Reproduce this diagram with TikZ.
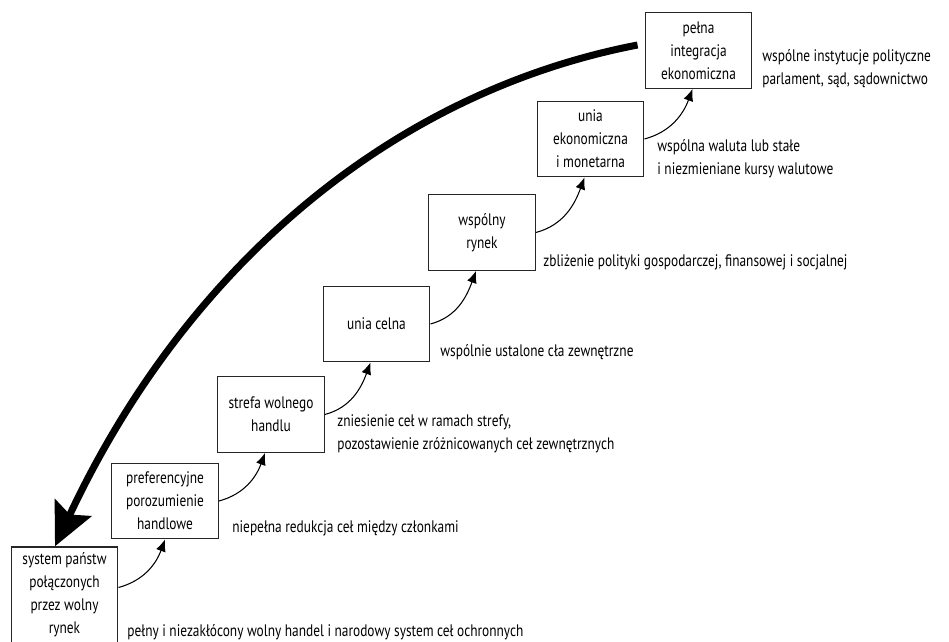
\documentclass[tikz,border=0pt]{standalone}
\usepackage{fontspec}
\setmainfont{PT Sans}[FakeStretch=0.80]
\usepackage{tikz}
\usetikzlibrary{positioning,calc,arrows.meta}

\tikzset{
  stage/.style={draw=black!85, line width=0.8pt, align=center, inner sep=2pt,
    minimum width=2.13cm, minimum height=1.51cm, font=\fontsize{9.5}{13.1}\selectfont},
  descr/.style={anchor=west, align=left, inner sep=0pt, font=\fontsize{9.5}{13.1}\selectfont},
  step arrow/.style={-{Latex[length=2.4mm,width=2mm]}, line width=0.6pt},
  big arrow/.style={-{Stealth[length=8.5mm,width=8mm,inset=1.5mm]}, line width=4pt}
}

\begin{document}
\begin{tikzpicture}
    \useasboundingbox (0,0) rectangle (18.98,12.84);

    % Stages
    \node[stage, minimum height=1.92cm] (b1) at (1.29,0.94) {system państw\\połączonych\\przez wolny\\rynek};
    \node[stage] (b2) at (3.30,2.82) {preferencyjne\\porozumienie\\handlowe};
    \node[stage] (b3) at (5.42,4.55) {strefa wolnego\\handlu};
    \node[stage] (b4) at (7.53,6.36) {unia celna};
    \node[stage] (b5) at (9.64,8.19) {wspólny\\rynek};
    \node[stage] (b6) at (11.81,10.06) {unia\\ekonomiczna\\i monetarna};
    \node[stage] (b7) at (13.97,11.83) {pełna\\integracja\\ekonomiczna};

    % Arrows between stages
    \draw[step arrow] ([yshift=1.5mm]b1.east) to[out=15, in=-110] (b2.south);
    \draw[step arrow] (b2.east) to[out=15, in=-110] ([xshift=-1.2mm]b3.south);
    \draw[step arrow] (b3.east) to[out=15, in=-110] ([xshift=-1.2mm]b4.south);
    \draw[step arrow] (b4.east) to[out=15, in=-110] ([xshift=-1.2mm]b5.south);
    \draw[step arrow] (b5.east) to[out=15, in=-110] ([xshift=-1.2mm]b6.south);
    \draw[step arrow] (b6.east) to[out=15, in=-110] ([xshift=-1.2mm]b7.south);

    % Return arrow
    \draw[big arrow] ([xshift=-1.4mm,yshift=1.1mm]b7.west)
        .. controls (7.78,10.98) and (3.70,7.46) .. ([xshift=-1.9mm]b1.north);

    % Descriptions
    \node[descr] (t1) at (2.54,0.20) {pełny i niezakłócony wolny handel i narodowy system ceł ochronnych};
    \node[descr] (t2) at (4.64,2.28) {niepełna redukcja ceł między członkami};
    \node[descr] (t3) at (6.74,4.17) {zniesienie ceł w ramach strefy,\\pozostawienie zróżnicowanych ceł zewnętrznych};
    \node[descr] (t4) at (8.80,5.80) {wspólnie ustalone cła zewnętrzne};
    \node[descr] (t5) at (10.86,7.60) {zbliżenie polityki gospodarczej, finansowej i socjalnej};
    \node[descr] (t6) at (13.14,9.67) {wspólna waluta lub stałe\\i niezmieniane kursy walutowe};
    \node[descr] (t7) at (15.24,11.47) {wspólne instytucje polityczne\\parlament, sąd, sądownictwo};
\end{tikzpicture}
\end{document}
